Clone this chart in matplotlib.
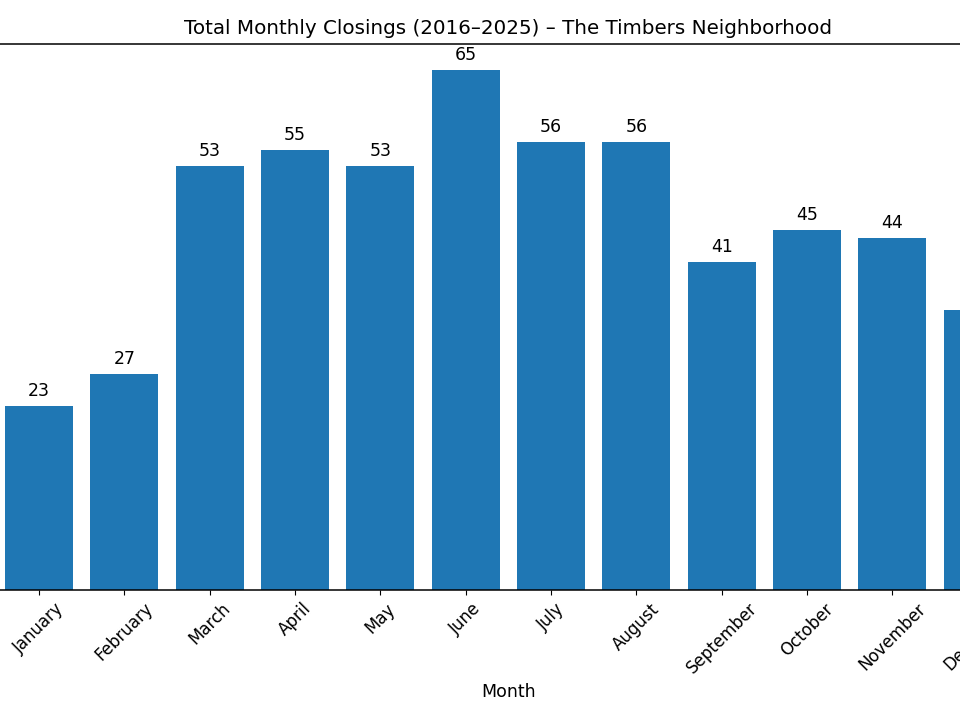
import matplotlib
matplotlib.use("Agg")
import matplotlib.pyplot as plt

# monthly closings, 2016-2025 totals
months = ["January", "February", "March", "April", "May", "June",
          "July", "August", "September", "October", "November", "December"]
closings = [23, 27, 53, 55, 53, 65, 56, 56, 41, 45, 44, 35]

fig = plt.figure(figsize=(9.6, 7.2), dpi=100)
# axes runs past the left/right edges of the canvas, like the reference crop
ax = fig.add_axes([-0.0474, 0.1806, 1.1538, 0.7583])

bars = ax.bar(months, closings, color="#1f77b4", width=0.8)
ax.bar_label(bars, padding=4, fontsize=12.5)

ax.set_title("Total Monthly Closings (2016\u20132025) \u2013 The Timbers Neighborhood",
             fontsize=14.3, pad=7.5)
ax.set_xlabel("Month", fontsize=12.5)
ax.tick_params(axis="x", labelrotation=45, labelsize=12)
ax.tick_params(axis="y", labelsize=12)
for s in ax.spines.values():
    s.set_linewidth(1.1)

fig.savefig("out.png", dpi=100)
